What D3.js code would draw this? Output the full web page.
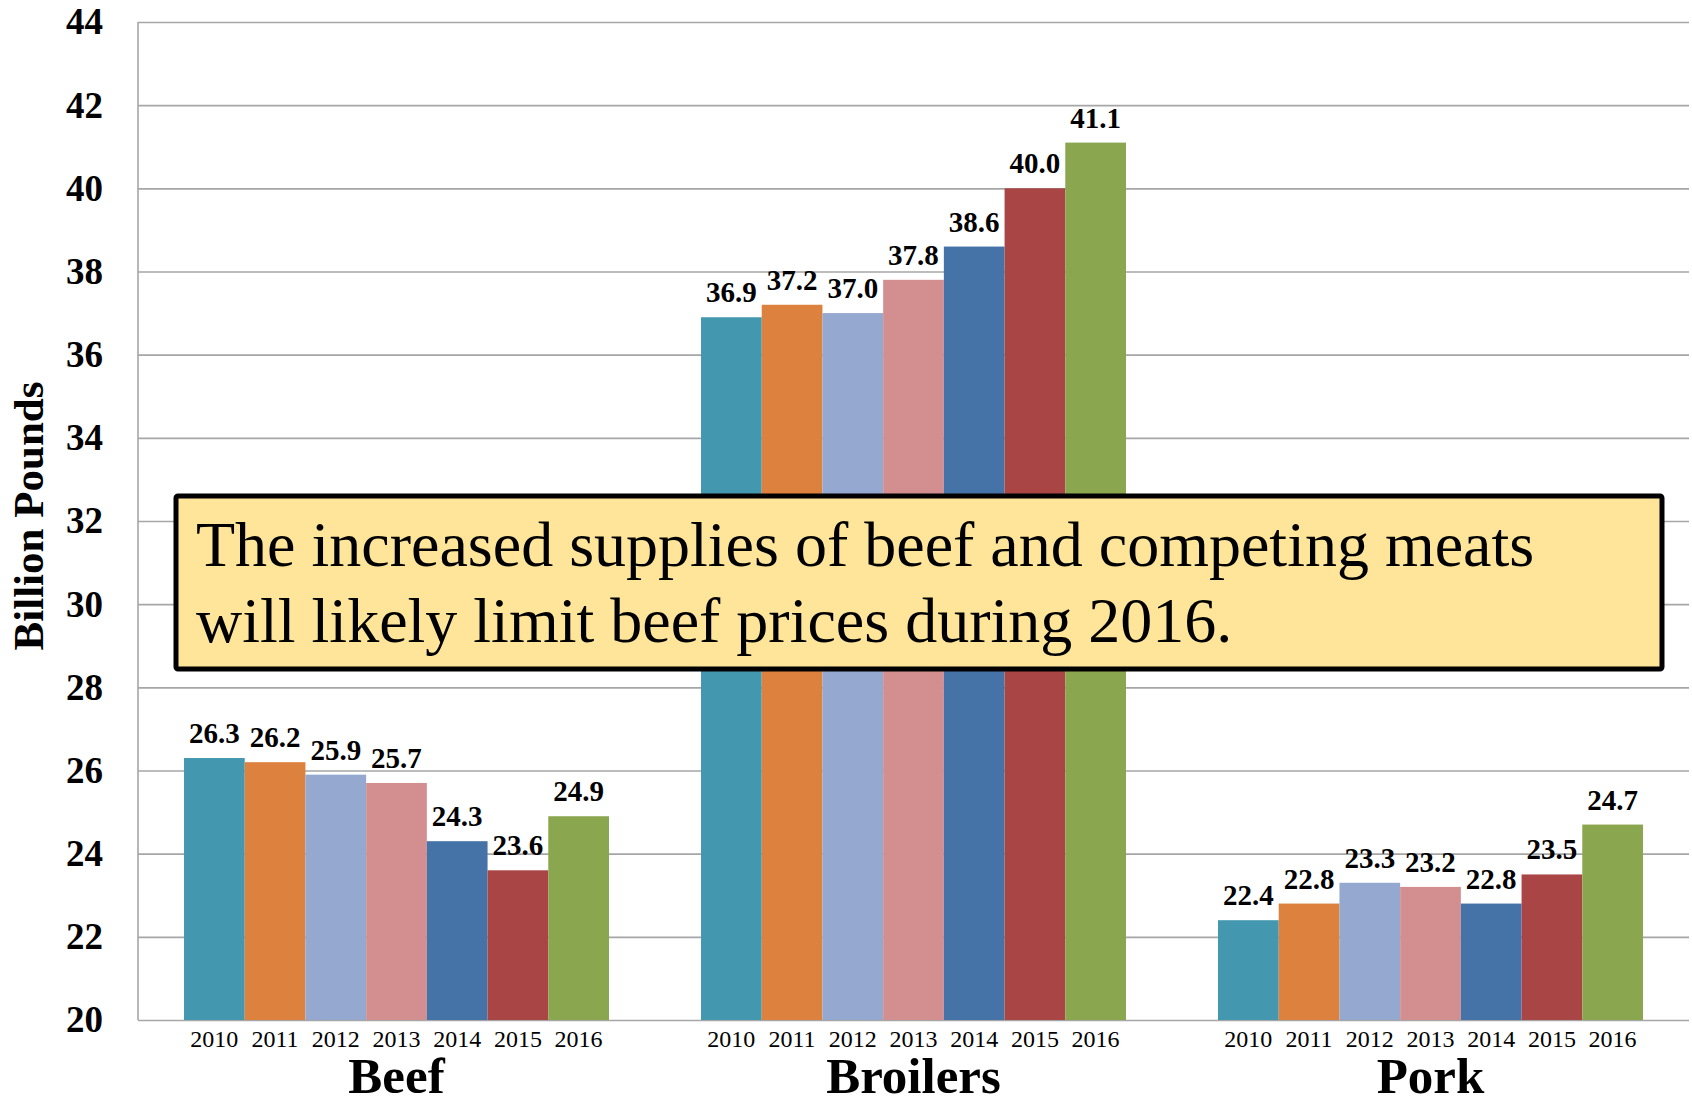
<!DOCTYPE html>
<html>
<head>
<meta charset="utf-8">
<script src="https://cdn.jsdelivr.net/npm/d3@7"></script>
<style>
  html, body { margin: 0; padding: 0; background: #fff; }
  svg { display: block; }
</style>
</head>
<body>
<svg id="chart" width="1692" height="1098"></svg>
<script>
const categories = ["Beef", "Broilers", "Pork"];
const years = ["2010", "2011", "2012", "2013", "2014", "2015", "2016"];
const beef = [26.3, 26.2, 25.9, 25.7, 24.3, 23.6, 24.9];
const broilers = [36.9, 37.2, 37.0, 37.8, 38.6, 40.0, 41.1];
const pork = [22.4, 22.8, 23.3, 23.2, 22.8, 23.5, 24.7];
const yTicks = [20, 22, 24, 26, 28, 30, 32, 34, 36, 38, 40, 42, 44];
const yearColors = ["#4398B0", "#DC823E", "#95A9D0", "#D38F8F", "#4673A7", "#A94545", "#8AA64E"];
const yTitle = "Billion Pounds";
const noteLines = ["The increased supplies of beef and competing meats",
                   "will likely limit beef prices during 2016."];

const seriesByCat = { "Beef": beef, "Broilers": broilers, "Pork": pork };

const svg = d3.select("#chart");
const margin = { left: 138, right: 3, top: 22, bottom: 78 };
const W = 1692, H = 1098;
const serif = "'Liberation Serif', 'Times New Roman', serif";

const x0 = d3.scaleBand().domain(categories)
  .range([margin.left, W - margin.right]).paddingInner(0.178).paddingOuter(0.089);
const x1 = d3.scaleBand().domain(years).range([0, x0.bandwidth()]).padding(0);
const y = d3.scaleLinear().domain([20, 44]).range([H - margin.bottom, margin.top]);

// gridlines
const grid = svg.append("g")
  .attr("transform", `translate(${margin.left},0)`)
  .call(d3.axisLeft(y).tickValues(yTicks).tickSize(-(W - margin.right - margin.left)).tickFormat(""));
grid.select(".domain").remove();
grid.selectAll(".tick line").attr("stroke", "#a6a6a6").attr("stroke-width", 1.6);

// left axis line
svg.append("line")
  .attr("x1", margin.left).attr("x2", margin.left)
  .attr("y1", y(44)).attr("y2", y(20))
  .attr("stroke", "#a6a6a6").attr("stroke-width", 1.6);

// y tick labels
const yAxis = svg.append("g")
  .attr("transform", `translate(${margin.left - 35},0)`)
  .call(d3.axisLeft(y).tickValues(yTicks).tickSize(0).tickPadding(0).tickFormat(d3.format("d")));
yAxis.select(".domain").remove();
yAxis.selectAll("text")
  .attr("font-family", serif).attr("font-weight", "bold").attr("font-size", 37)
  .attr("fill", "#000").attr("dy", "0.32em");

// y title
svg.append("text")
  .attr("transform", `translate(43, ${516}) rotate(-90)`)
  .attr("text-anchor", "middle")
  .attr("font-family", serif).attr("font-weight", "bold").attr("font-size", 43)
  .text(yTitle);

// bars
const groups = svg.append("g").selectAll("g")
  .data(categories).join("g")
  .attr("transform", d => `translate(${x0(d)},0)`);

groups.selectAll("rect")
  .data(c => seriesByCat[c].map((v, i) => ({ year: years[i], v, i })))
  .join("rect")
  .attr("x", d => x1(d.year))
  .attr("width", x1.bandwidth())
  .attr("y", d => y(d.v))
  .attr("height", d => y(20) - y(d.v))
  .attr("fill", d => yearColors[d.i]);

groups.selectAll("text.val")
  .data(c => seriesByCat[c].map((v, i) => ({ year: years[i], v, i })))
  .join("text").attr("class", "val")
  .attr("x", d => x1(d.year) + x1.bandwidth() / 2)
  .attr("y", d => y(d.v) - 15)
  .attr("text-anchor", "middle")
  .attr("font-family", serif).attr("font-weight", "bold").attr("font-size", 29)
  .text(d => d3.format(".1f")(d.v));

// year labels
groups.selectAll("text.yr")
  .data(years).join("text").attr("class", "yr")
  .attr("x", d => x1(d) + x1.bandwidth() / 2)
  .attr("y", y(20) + 27)
  .attr("text-anchor", "middle")
  .attr("font-family", serif).attr("font-size", 24)
  .text(d => d);

// category labels
groups.append("text")
  .attr("x", x0.bandwidth() / 2)
  .attr("y", H - 5)
  .attr("text-anchor", "middle")
  .attr("font-family", serif).attr("font-weight", "bold").attr("font-size", 51)
  .text(d => d);

// annotation box
const box = svg.append("g");
box.append("rect")
  .attr("x", 176).attr("y", 496).attr("width", 1486).attr("height", 173)
  .attr("rx", 2)
  .attr("fill", "#FEE599").attr("stroke", "#000").attr("stroke-width", 5);
box.selectAll("text")
  .data(noteLines).join("text")
  .attr("x", 196)
  .attr("y", (d, i) => 566 + i * 76)
  .attr("font-family", serif).attr("font-size", 64)
  .text(d => d);
</script>
</body>
</html>
